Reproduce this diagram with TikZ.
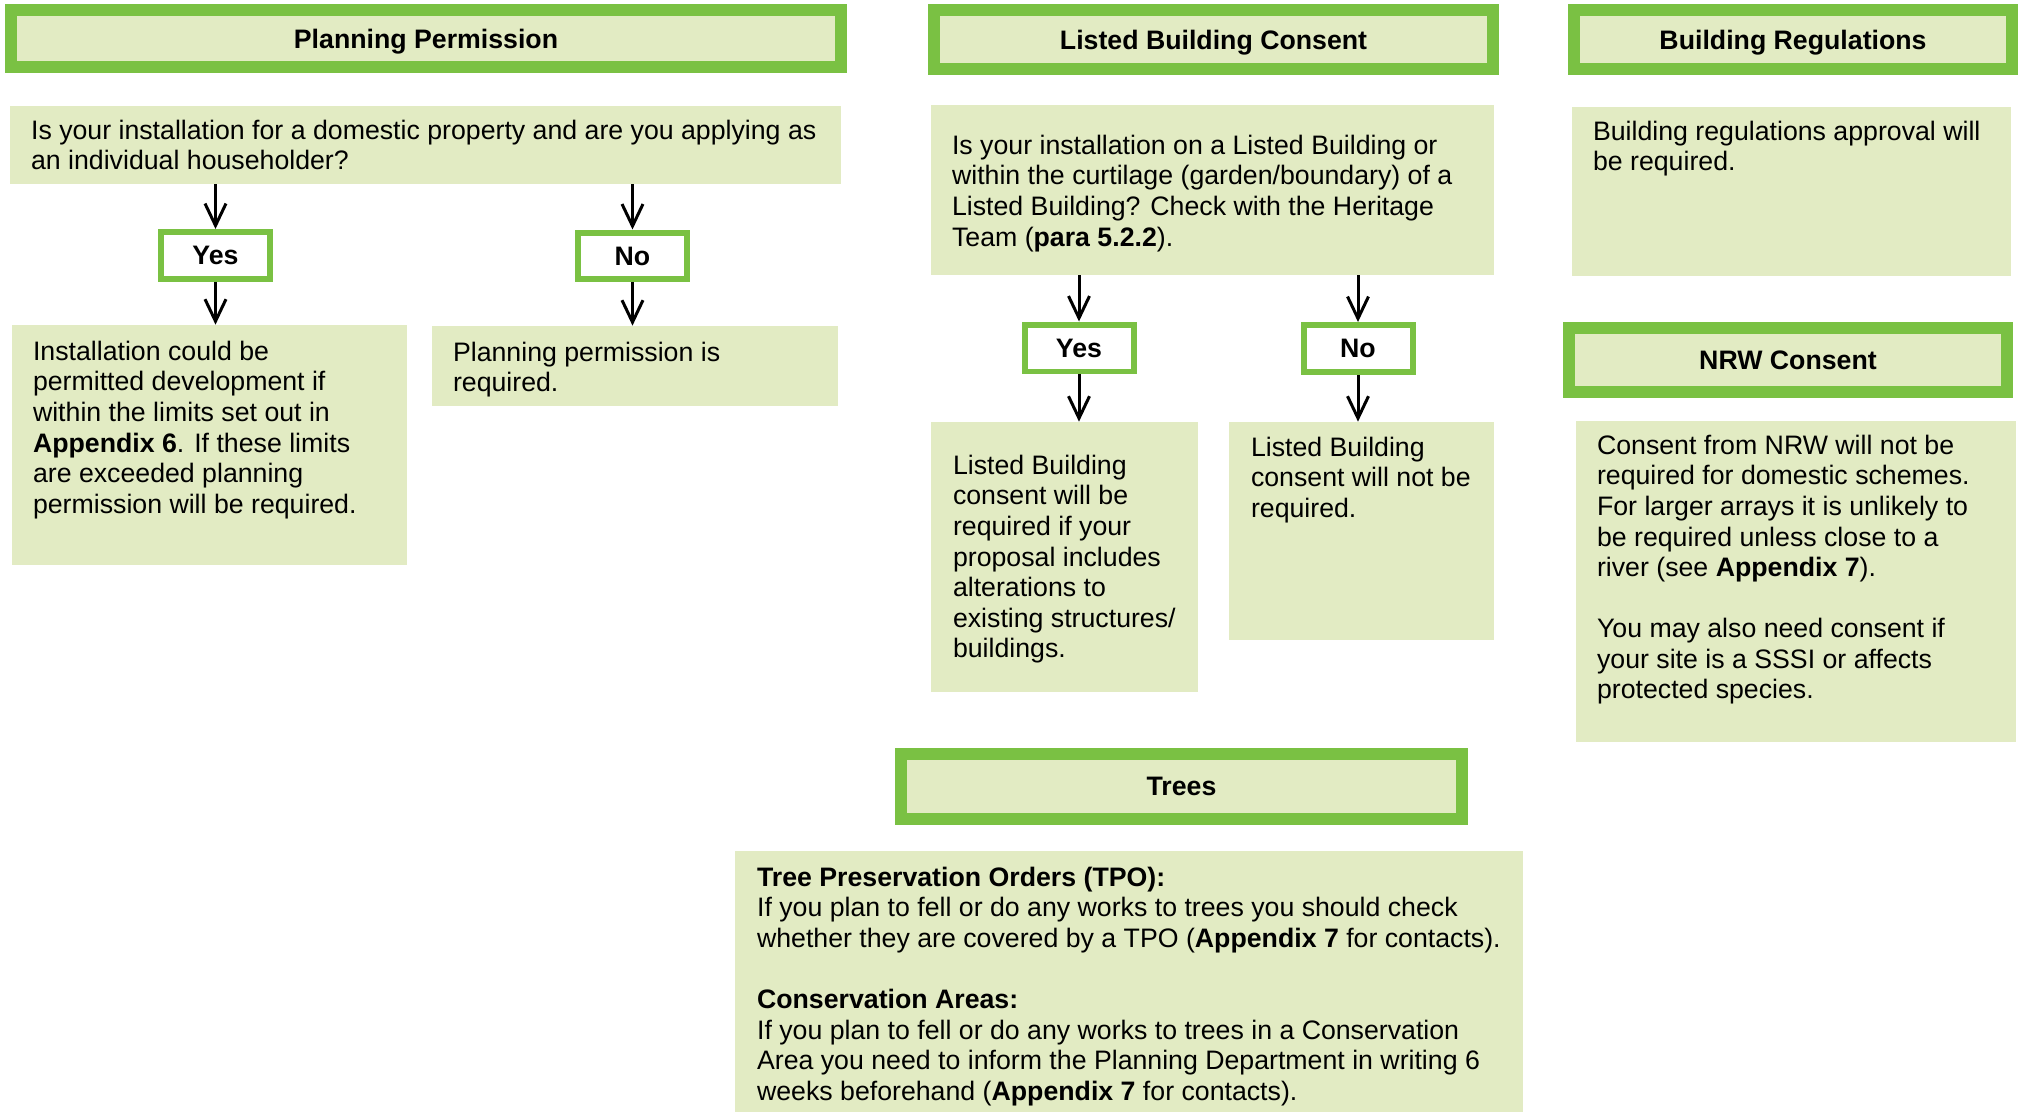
\documentclass[tikz,border=0pt]{standalone}
\usepackage{fontspec}
\setmainfont{Liberation Sans}
\usetikzlibrary{shapes,positioning,arrows.meta,calc}
\usepackage{xcolor}
\definecolor{nodeGreen}{RGB}{122,193,67}
\definecolor{paleGreen}{RGB}{226,235,195}
\newcommand{\bodyfont}{\fontsize{15.2pt}{17.4pt}\selectfont}

\begin{document}
\begin{tikzpicture}[x=0.02cm, y=-0.02cm]

    \tikzstyle{hdr}=[draw=nodeGreen, line width=0.24cm, fill=paleGreen, rectangle, inner sep=0pt, text depth=0pt, font=\bodyfont\bfseries];
    \tikzstyle{panel}=[fill=paleGreen, rectangle, inner sep=0pt];
    \tikzstyle{opt}=[draw=nodeGreen, line width=0.12cm, fill=white, rectangle, minimum width=2.18cm, minimum height=0.94cm, inner sep=0pt, text depth=0pt, font=\bodyfont\bfseries];
    \tikzstyle{txt}=[align=left, inner sep=0pt, font=\bodyfont];

    \useasboundingbox (0,0) rectangle (2022,1112);

    \begin{scope}[>={Straight Barb[length=0.44cm,width=0.42cm]}]
      \node (planHead) at (426,38.5) [hdr, minimum width=16.6cm, minimum height=1.14cm]{Planning Permission};
      \node (planQuestion) at (425.5,145) [panel, minimum width=16.62cm, minimum height=1.56cm]{};
      \node (planQuestionText) [below right=0.28cm and 0.42cm of planQuestion.north west, txt]{Is your installation for a domestic property and are you applying as\\an individual householder?};
      \node (planYes) at (215.5,255.5) [opt]{Yes};
      \node (planNo) at (632.5,256) [opt]{No};
      \node (planYesBox) at (209.5,445) [panel, minimum width=7.9cm, minimum height=4.8cm]{};
      \node (planYesText) [below right=0.32cm and 0.42cm of planYesBox.north west, txt]{Installation could be\\permitted development if\\within the limits set out in\\\textbf{Appendix 6}. If these limits\\are exceeded planning\\permission will be required.};
      \node (planNoBox) at (635,366) [panel, minimum width=8.12cm, minimum height=1.6cm]{};
      \node (planNoText) [below right=0.32cm and 0.42cm of planNoBox.north west, txt]{Planning permission is\\required.};

      \node (listedHead) at (1213.5,39.5) [hdr, minimum width=11.18cm, minimum height=1.18cm]{Listed Building Consent};
      \node (listedQuestion) at (1212.5,190) [panel, minimum width=11.26cm, minimum height=3.4cm]{};
      \node (listedQuestionText) [below right=0.6cm and 0.42cm of listedQuestion.north west, txt]{Is your installation on a Listed Building or\\within the curtilage (garden/boundary) of a\\Listed Building? Check with the Heritage\\Team (\textbf{para 5.2.2}).};
      \node (listedYes) at (1079,348) [opt]{Yes};
      \node (listedNo) at (1358,348.5) [opt]{No};
      \node (listedYesBox) at (1064.5,557) [panel, minimum width=5.34cm, minimum height=5.4cm]{};
      \node (listedYesText) [below right=0.66cm and 0.44cm of listedYesBox.north west, txt]{Listed Building\\consent will be\\required if your\\proposal includes\\alterations to\\existing structures/\\buildings.};
      \node (listedNoBox) at (1361.5,531) [panel, minimum width=5.3cm, minimum height=4.36cm]{};
      \node (listedNoText) [below right=0.3cm and 0.44cm of listedNoBox.north west, txt]{Listed Building\\consent will not be\\required.};

      \node (regsHead) at (1793,39.5) [hdr, minimum width=8.76cm, minimum height=1.18cm]{Building Regulations};
      \node (regsBox) at (1791.5,191.5) [panel, minimum width=8.78cm, minimum height=3.38cm]{};
      \node (regsText) [below right=0.28cm and 0.42cm of regsBox.north west, txt]{Building regulations approval will\\be required.};

      \node (nrwHead) at (1788,360) [hdr, minimum width=8.76cm, minimum height=1.28cm]{NRW Consent};
      \node (nrwBox) at (1796,581.5) [panel, minimum width=8.8cm, minimum height=6.42cm]{};
      \node (nrwText) [below right=0.28cm and 0.42cm of nrwBox.north west, txt]{Consent from NRW will not be\\required for domestic schemes.\\For larger arrays it is unlikely to\\be required unless close to a\\river (see \textbf{Appendix 7}).\\[17.4pt]You may also need consent if\\your site is a SSSI or affects\\protected species.};

      \node (treesHead) at (1181.5,786.5) [hdr, minimum width=11.22cm, minimum height=1.3cm]{Trees};
      \node (treesBox) at (1129,981.5) [panel, minimum width=15.76cm, minimum height=5.22cm]{};
      \node (treesText) [below right=0.32cm and 0.44cm of treesBox.north west, txt]{\textbf{Tree Preservation Orders (TPO):}\\If you plan to fell or do any works to trees you should check\\whether they are covered by a TPO (\textbf{Appendix 7} for contacts).\\[17.4pt]\textbf{Conservation Areas:}\\If you plan to fell or do any works to trees in a Conservation\\Area you need to inform the Planning Department in writing 6\\weeks beforehand (\textbf{Appendix 7} for contacts).};

      \draw [->, line width=0.06cm] (planQuestion.south -| planYes.north) -- (planYes.north);
      \draw [->, line width=0.06cm] (planQuestion.south -| planNo.north) -- (planNo.north);
      \draw [->, line width=0.06cm] (planYes.south) -- (planYes.south |- planYesBox.north);
      \draw [->, line width=0.06cm] (planNo.south) -- (planNo.south |- planNoBox.north);

      \draw [->, line width=0.06cm] (listedQuestion.south -| listedYes.north) -- (listedYes.north);
      \draw [->, line width=0.06cm] (listedQuestion.south -| listedNo.north) -- (listedNo.north);
      \draw [->, line width=0.06cm] (listedYes.south) -- (listedYes.south |- listedYesBox.north);
      \draw [->, line width=0.06cm] (listedNo.south) -- (listedNo.south |- listedNoBox.north);

    \end{scope}
   \end{tikzpicture}
\end{document}
